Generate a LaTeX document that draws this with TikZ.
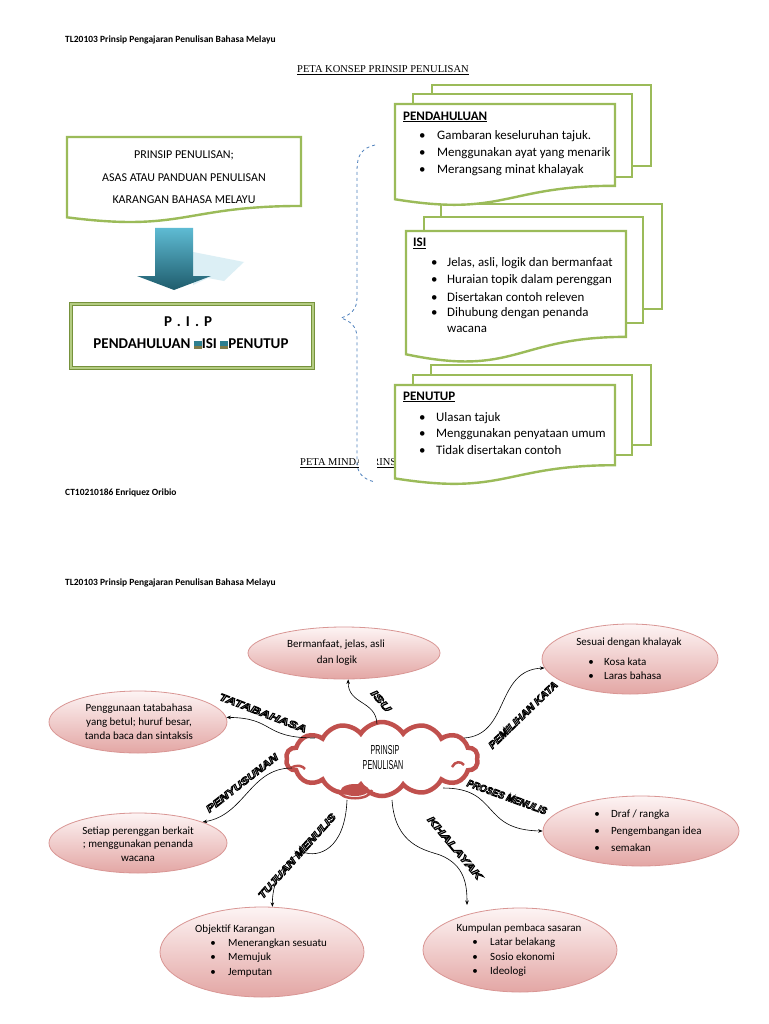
\documentclass[tikz,border=0pt]{standalone}
\usepackage{fontspec}
\setmainfont{Carlito}
\newfontfamily\serifft{Liberation Serif}
\newfontfamily\sansft{Liberation Sans}
\usetikzlibrary{shapes.geometric,shapes.symbols,arrows.meta}
\definecolor{grn}{HTML}{9BBB59}
\definecolor{grnd}{HTML}{76923C}
\definecolor{cred}{HTML}{C0504D}
\definecolor{pinkb}{HTML}{E3A6A4}
\definecolor{pinkt}{HTML}{FDF4F4}
\definecolor{pinkline}{HTML}{D99694}
\definecolor{bracec}{HTML}{4F81BD}
\definecolor{arrtop}{HTML}{5EBBD3}
\definecolor{arrbot}{HTML}{1F5C6C}
\definecolor{arrshad}{HTML}{DCEFF5}
\definecolor{tealc}{HTML}{2E7F8F}
\definecolor{olivec}{HTML}{7F7B4A}
\newcommand\itm[2]{\llap{\textbullet\hspace{#1pt}}#2}
\newcommand\sqr{\rlap{\textcolor{olivec}{\rule{8pt}{2.5pt}}}\textcolor{tealc}{\rule[2.5pt]{8pt}{5pt}}}
\newcommand\outl[1]{\textcolor{black}{\special{pdf:literal direct 2 Tr 0.8 w 0.82 0.82 0.82 rg 0 0 0 RG}#1\special{pdf:literal direct 0 Tr}}}
\newcommand\docshape[4]{\draw[grnline] (#1,#2) -- (#3,#2) -- (#3,{#2+0.802*#4}) .. controls ({(#1+#3)/2},{#2+0.802*#4}) and ({(#1+#3)/2},{#2+1.11*#4}) .. (#1,{#2+0.934*#4}) -- cycle;}
\begin{document}
\begin{tikzpicture}[x=1pt,y=-1pt,
  hdr/.style={font=\bfseries\fontsize{9.5}{11}\selectfont, inner sep=0, anchor=west},
  ttl/.style={font=\serifft\fontsize{10.5}{12}\selectfont, inner sep=0, anchor=west},
  grnline/.style={draw=grn, line width=2.4pt, fill=white, line join=miter},
  lbt/.style={font=\fontsize{12}{13}\selectfont, inner sep=0},
  bt/.style={font=\fontsize{12.9}{16.7}\selectfont, inner sep=0, anchor=west},
  bth/.style={font=\bfseries\fontsize{13}{16}\selectfont, inner sep=0, anchor=west},
  et/.style={font=\fontsize{11}{13}\selectfont, inner sep=0},
  etl/.style={font=\fontsize{11}{13}\selectfont, inner sep=0, anchor=west},
  pinkell/.style={ellipse, draw=pinkline, line width=0.8pt, top color=pinkt, bottom color=pinkb, inner sep=0},
  conn/.style={draw=black, line width=0.6pt, -{Stealth[length=4.5pt,width=3.5pt]}},
  wa/.style={font=\sansft\bfseries\itshape\fontsize{10}{12}\selectfont, inner sep=0},
  hook/.style={draw=cred, line width=2.5pt}
]
\useasboundingbox (0,0) rectangle (768,1024);
\fill[white] (0,0) rectangle (768,1024);

% ---------- page 1 ----------
\node[hdr] (h1) at (65,40) {TL20103 Prinsip Pengajaran Penulisan Bahasa Melayu};
\node[ttl] (t1) at (297,70) {\underline{PETA KONSEP PRINSIP PENULISAN}};
\node[ttl] (t2) at (300,463) {\underline{PETA MINDA PRINSIP PENULISAN}};
\node[hdr] (ct) at (65,493) {CT10210186 Enriquez Oribio};

% left document box
\docshape{67}{137}{301}{86}
\node[lbt] (p1) at (184,155) {PRINSIP PENULISAN;};
\node[lbt] (p2) at (184,178) {ASAS ATAU PANDUAN PENULISAN};
\node[lbt] (p3) at (184,200) {KARANGAN BAHASA MELAYU};

% big arrow
\fill[arrshad] (193,252) -- (244,262) -- (224,281) -- (208,278) -- (193,285) -- cycle;
\shade[top color=arrtop, bottom color=arrbot] (155,228) -- (193,228) -- (193,276) -- (211,276) -- (174,290) -- (137,276) -- (155,276) -- cycle;

% PIP box
\node[draw=grnd, double=grn!75, double distance=2.2pt, line width=0.9pt, minimum width=242pt, minimum height=64pt, inner sep=0] (pip) at (192,336) {};
\node[font=\bfseries\fontsize{15}{18}\selectfont, inner sep=0] (pipt) at (188,322) {P\,\,.\,\,I\,\,.\,\,P};
\node[font=\bfseries\fontsize{15}{18}\selectfont, inner sep=0] (pipl) at (191,344) {PENDAHULUAN \sqr ISI \sqr PENUTUP};

% brace
\fill[white] (359,454) rectangle (377,472);
\draw[bracec, dashed, line width=0.8pt] (375,145) .. controls (362,148) and (357,155) .. (357,170) -- (357,298) .. controls (357,310) and (350,315) .. (341,318) .. controls (350,321) and (357,326) .. (357,338) -- (357,462) .. controls (357,472) and (362,479) .. (375,482);

% PENUTUP stack
\draw[grnline] (431,365) rectangle (651,445);
\draw[grnline] (413,375) rectangle (632,455);
\docshape{395}{385}{615}{100}
\node[bth] (pnh) at (403,397) {\underline{PENUTUP}};
\node[bt] (pn1) at (436,418) {\itm{10.6}{Ulasan tajuk}};
\node[bt] (pn2) at (436,434) {\itm{10.6}{Menggunakan penyataan umum}};
\node[bt] (pn3) at (436,450) {\itm{10.6}{Tidak disertakan contoh}};

% ISI stack
\draw[grnline] (441,204) rectangle (662,309);
\draw[grnline] (424,217) rectangle (643,323);
\docshape{406}{231}{626}{132}
\node[bth] (ih) at (413,243) {\underline{ISI}};
\node[bt] (i1) at (447,263) {\itm{9.6}{Jelas, asli, logik dan bermanfaat}};
\node[bt] (i2) at (447,280) {\itm{9.6}{Huraian topik dalam perenggan}};
\node[bt] (i3) at (447,297) {\itm{9.6}{Disertakan contoh releven}};
\node[bt] (i4) at (447,313) {\itm{9.6}{Dihubung dengan penanda}};
\node[bt] (i5) at (447,329) {wacana};

% PENDAHULUAN stack
\draw[grnline] (432,85) rectangle (651,166);
\draw[grnline] (413,94) rectangle (632,177);
\docshape{395}{104}{615}{102}
\node[bth] (ph) at (403,117) {\underline{PENDAHULUAN}};
\node[bt] (ph1) at (437,136) {\itm{11.6}{Gambaran keseluruhan tajuk.}};
\node[bt] (ph2) at (437,153) {\itm{11.6}{Menggunakan ayat yang menarik}};
\node[bt] (ph3) at (437,170) {\itm{11.6}{Merangsang minat khalayak}};

% ---------- page 2 ----------
\node[hdr] (h2) at (65,583) {TL20103 Prinsip Pengajaran Penulisan Bahasa Melayu};

% ellipses
\node[pinkell, minimum width=192pt, minimum height=52pt] (e1) at (344,653) {};
\node[et] (e1a) at (336,645) {Bermanfaat, jelas, asli};
\node[et] (e1b) at (337,661) {dan logik};

\node[pinkell, minimum width=176pt, minimum height=70pt] (e2) at (630,659) {};
\node[et] (e2a) at (629,643) {Sesuai dengan khalayak};
\node[etl] (e2b) at (604,662) {\itm{10.3}{Kosa kata}};
\node[etl] (e2c) at (604,676) {\itm{10.3}{Laras bahasa}};

\node[pinkell, minimum width=178pt, minimum height=62pt] (e3) at (138,722) {};
\node[et] (e3a) at (139,709) {Penggunaan tatabahasa};
\node[et] (e3b) at (139,723) {yang betul; huruf besar,};
\node[et] (e3c) at (139,736) {tanda baca dan sintaksis};

\node[pinkell, minimum width=178pt, minimum height=60pt] (e4) at (138,843) {};
\node[et] (e4a) at (138,832) {Setiap perenggan berkait};
\node[et] (e4b) at (138,845) {; menggunakan penanda};
\node[et] (e4c) at (138,859) {wacana};

\node[pinkell, minimum width=196pt, minimum height=70pt] (e5) at (641,831) {};
\node[etl] (e5a) at (611,815) {\itm{11.3}{Draf / rangka}};
\node[etl] (e5b) at (611,832) {\itm{11.3}{Pengembangan idea}};
\node[etl] (e5c) at (611,848) {\itm{11.3}{semakan}};

\node[pinkell, minimum width=204pt, minimum height=90pt] (e6) at (262,952) {};
\node[etl] (e6a) at (195,930) {Objektif Karangan};
\node[etl] (e6b) at (228,944) {\itm{12.3}{Menerangkan sesuatu}};
\node[etl] (e6c) at (228,958) {\itm{12.3}{Memujuk}};
\node[etl] (e6d) at (228,973) {\itm{12.3}{Jemputan}};

\node[pinkell, minimum width=194pt, minimum height=84pt] (e7) at (520,950) {};
\node[et] (e7a) at (519,929) {Kumpulan pembaca sasaran};
\node[etl] (e7b) at (490,943) {\itm{12.3}{Latar belakang}};
\node[etl] (e7c) at (490,957) {\itm{12.3}{Sosio ekonomi}};
\node[etl] (e7d) at (490,972) {\itm{12.3}{Ideologi}};

% cloud
\node[cloud, cloud puffs=14, cloud puff arc=115, aspect=2.6, draw=cred, line width=4.5pt, fill=white, minimum width=192pt, minimum height=74pt, inner sep=0] (cloud) at (382,759) {};
\fill[cred] (355,790) ellipse [x radius=14, y radius=6];
\draw[hook] (338,790) .. controls (340,801) and (370,801) .. (372,790);
\draw[hook] (291,768) .. controls (297,764) and (303,766) .. (305,769);
\draw[hook] (452,767) .. controls (455,761) and (461,761) .. (464,765);
\node[inner sep=0] (ct1) at (385,750) {\sansft\fontsize{13}{14}\selectfont\scalebox{0.55}[1]{PRINSIP}};
\node[inner sep=0] (ct2) at (383,765) {\sansft\fontsize{13}{14}\selectfont\scalebox{0.55}[1]{PENULISAN}};

% attach points on cloud
\coordinate (cISU) at (377,724);
\coordinate (cTAT) at (315,738);
\coordinate (cPEN) at (292,768);
\coordinate (cTUJ) at (347,800);
\coordinate (cKHA) at (392,800);
\coordinate (cPEM) at (464,738);
\coordinate (cPRO) at (443,788);

% connectors
\draw[conn] (cISU) .. controls (376,700) and (348,705) .. (e1.-81);
\draw[conn] (cTAT) .. controls (262,738) and (275,718) .. (e3.3);
\draw[conn] (cPEN) .. controls (250,768) and (245,815) .. (e4.18);
\draw[conn] (cTUJ) .. controls (345,850) and (318,858) .. (303,852) .. controls (285,858) and (272,880) .. (e6.77);
\draw[conn] (cKHA) .. controls (395,845) and (425,850) .. (440,855) .. controls (465,865) and (467,885) .. (467,905);
\draw[conn] (cPEM) .. controls (510,735) and (495,670) .. (e2.186);
\draw[conn] (cPRO) .. controls (500,788) and (480,830) .. (e5.west);

% wordart labels
\node[wa, rotate=-50] (lISU) at (381,701) {\outl{\scalebox{1.5}[1]{ISU}}};
\node[wa, rotate=-21] (lTAT) at (263,713) {\outl{\scalebox{1.38}[1]{TATABAHASA}}};
\node[wa, rotate=38] (lPEN) at (242,783) {\outl{\scalebox{1.26}[1]{PENYUSUNAN}}};
\node[wa, rotate=48] (lTUJ) at (297,856) {\outl{\scalebox{1.25}[1]{TUJUAN MENULIS}}};
\node[wa, rotate=-50] (lKHA) at (455,848) {\outl{\scalebox{1.45}[1]{KHALAYAK}}};
\node[wa, rotate=44] (lPEM) at (523,715) {\outl{\scalebox{1.09}[1]{PEMILIHAN KATA}}};
\node[wa, rotate=-20] (lPRO) at (507,797) {\outl{\scalebox{0.94}[1]{PROSES MENULIS}}};
\end{tikzpicture}
\end{document}
